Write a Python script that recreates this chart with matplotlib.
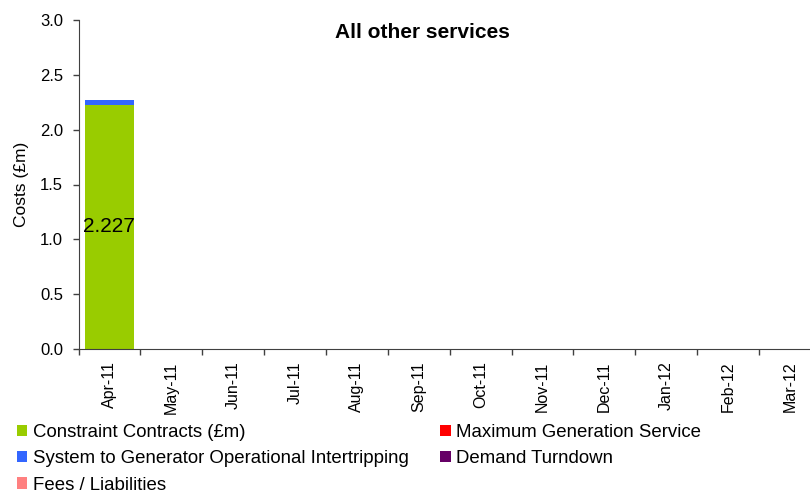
import matplotlib
matplotlib.use("Agg")
import matplotlib.pyplot as plt
import numpy as np

plt.rcParams['font.family'] = ['Liberation Sans', 'DejaVu Sans']

months = ["Apr-11", "May-11", "Jun-11", "Jul-11", "Aug-11", "Sep-11",
          "Oct-11", "Nov-11", "Dec-11", "Jan-12", "Feb-12", "Mar-12"]
constraint_contracts = [2.227, 0, 0, 0, 0, 0, 0, 0, 0, 0, 0, 0]
intertripping = [0.045, 0, 0, 0, 0, 0, 0, 0, 0, 0, 0, 0]
max_generation = [0] * 12
demand_turndown = [0] * 12
fees_liabilities = [0] * 12
label_values = ["2.227"] + [""] * 11

series = [
    ("Constraint Contracts (£m)", constraint_contracts, "#99CC00"),
    ("System to Generator Operational Intertripping", intertripping, "#3366FF"),
    ("Maximum Generation Service", max_generation, "#FF0000"),
    ("Demand Turndown", demand_turndown, "#660066"),
    ("Fees / Liabilities", fees_liabilities, "#FF8080"),
]

W, H = 810, 493
fig = plt.figure(figsize=(W / 100, H / 100), dpi=100)
left, right, bottom, top = 78.5, 821, 349, 20
ax = fig.add_axes([left / W, 1 - bottom / H, (right - left) / W, (bottom - top) / H])

x = np.arange(len(months))
base = np.zeros(len(months))
handles = {}
for name, vals, col in series:
    b = ax.bar(x, vals, 0.8, bottom=base, color=col, label=name, zorder=2)
    handles[name] = b
    base = base + np.array(vals)

for i, lab in enumerate(label_values):
    if lab:
        ax.text(x[i], constraint_contracts[i] / 2, lab, ha='center', va='center',
                fontsize=15, color='black', zorder=3)

ax.set_xlim(-0.5, len(months) - 0.5)
ax.set_ylim(0, 3.0)
ax.set_yticks(np.arange(0, 3.01, 0.5))
ax.set_yticklabels([f"{v:.1f}" for v in np.arange(0, 3.01, 0.5)], fontsize=12)
ax.set_xticks(x)
ax.set_xticklabels(months, rotation=90, fontsize=11.5)
ax.set_xticks(np.arange(-0.5, len(months), 1), minor=True)
ax.tick_params(axis='x', which='major', length=0, pad=9)
ax.tick_params(axis='x', which='minor', length=4, width=1, color='#404040', direction='out')
ax.tick_params(axis='y', length=4, width=1, color='#404040', direction='out', pad=7)
for s in ['top', 'right']:
    ax.spines[s].set_visible(False)
for s in ['left', 'bottom']:
    ax.spines[s].set_color('#404040')
ax.set_ylabel("Costs (£m)", fontsize=12.5, labelpad=8)

fig.text(422 / W, 1 - 32 / H, "All other services", ha='center', va='center',
         fontsize=15, fontweight='bold')

order = ["Constraint Contracts (£m)", "System to Generator Operational Intertripping",
         "Fees / Liabilities", "Maximum Generation Service", "Demand Turndown"]
leg = fig.legend([handles[n] for n in order], order, ncol=2, loc='upper left',
                 bbox_to_anchor=(17 / W, 1 - 424 / H), frameon=False,
                 fontsize=13.4, handlelength=0.55, handleheight=0.55,
                 handletextpad=0.3, columnspacing=1.7, labelspacing=0.5,
                 borderaxespad=0, borderpad=0)

fig.savefig("out.png", dpi=100)
